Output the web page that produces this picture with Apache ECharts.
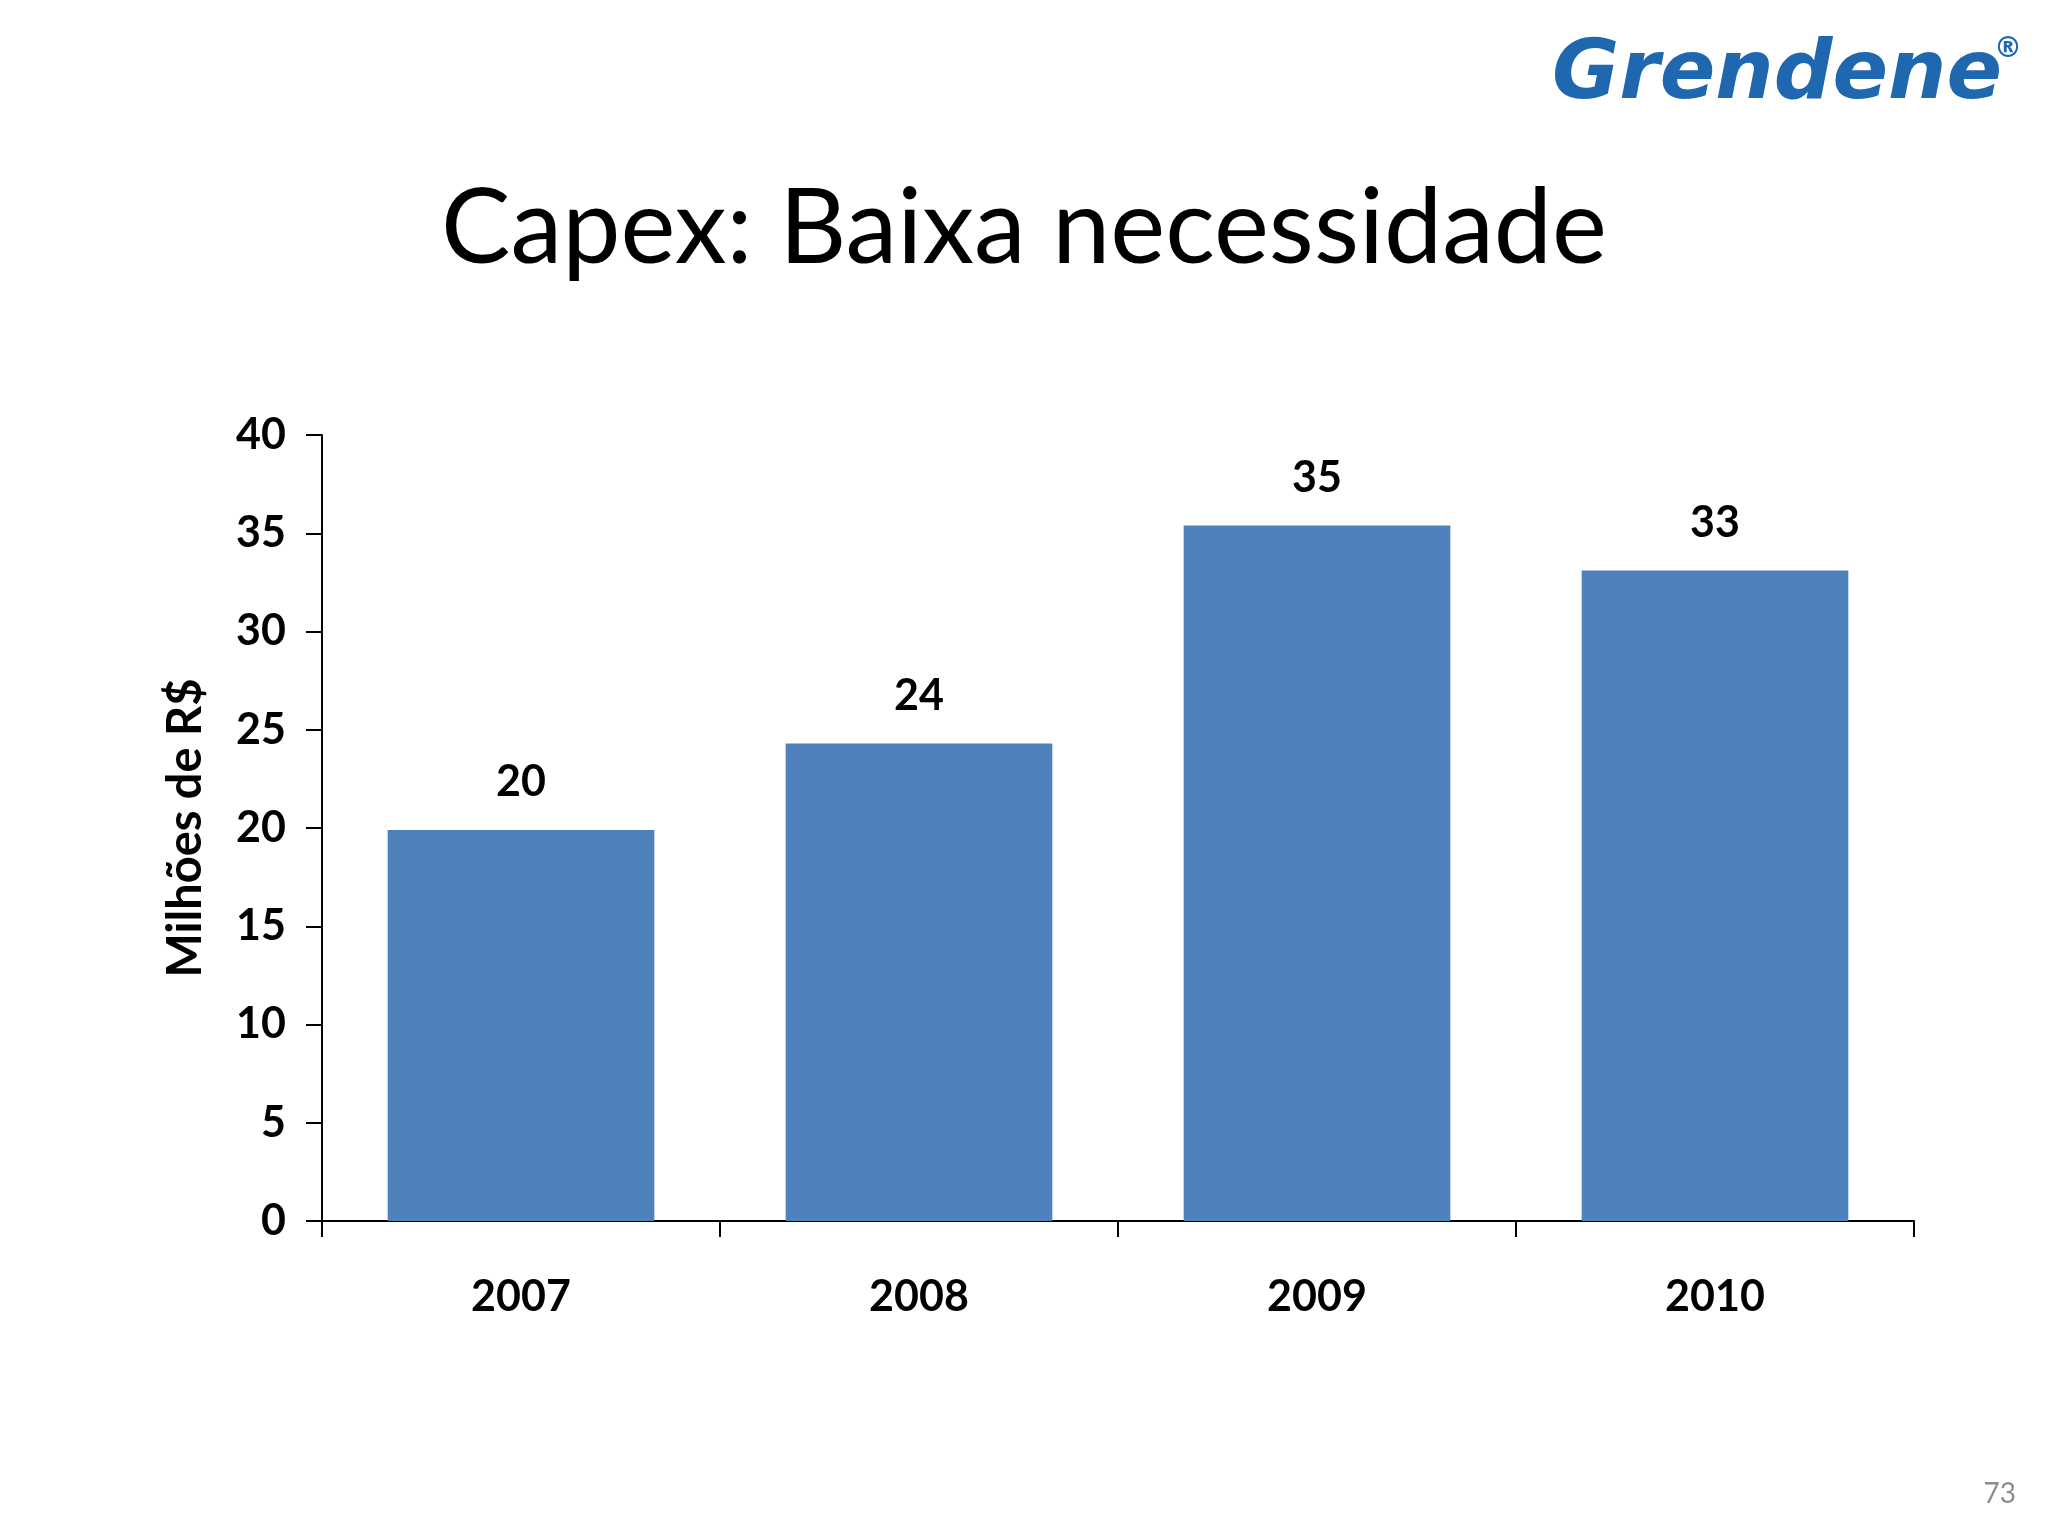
<!DOCTYPE html>
<html>
<head>
<meta charset="utf-8">
<script src="https://cdn.jsdelivr.net/npm/echarts@6/dist/echarts.min.js"></script>
<style>
html,body{margin:0;padding:0;background:#fff;}
#chart{width:2048px;height:1536px;}
</style>
</head>
<body>
<div id="chart"></div>
<script>
const titleText = 'Capex: Baixa necessidade';
const categories = ['2007', '2008', '2009', '2010'];
const capexValues = [19.9, 24.3, 35.4, 33.1];
const yAxisName = 'Milhões de R$';
const yMin = 0, yMax = 40, yInterval = 5;
const logoText = 'Grendene';
const pageNumber = '73';

const chart = echarts.init(document.getElementById('chart'));
const FONT = 'Lato, "Open Sans", sans-serif';
chart.setOption({
  backgroundColor: '#ffffff',
  animation: false,
  title: {
    text: titleText,
    left: 'center',
    top: 172,
    textStyle: { fontFamily: FONT, fontWeight: 'normal', fontSize: 104, color: '#000' }
  },
  graphic: [
    {
      type: 'text', left: 1552, top: 36,
      style: { text: logoText, fontFamily: '"DejaVu Sans", sans-serif', fontStyle: 'italic', fontWeight: 'bold', fontSize: 82, fill: '#1f68b0' }
    },
    {
      type: 'text', left: 1994, top: 36,
      style: { text: '®', fontFamily: '"DejaVu Sans", sans-serif', fontWeight: 'bold', fontSize: 28, fill: '#1f68b0' }
    },
    {
      type: 'text', right: 32, top: 1480,
      style: { text: pageNumber, fontFamily: FONT, fontSize: 28, fill: '#8c8c8c' }
    }
  ],
  grid: { left: 322, right: 134, top: 435, bottom: 315, containLabel: false },
  xAxis: {
    type: 'category',
    data: categories,
    axisLine: { show: true, lineStyle: { color: '#000', width: 2 } },
    axisTick: { show: true, length: 16, alignWithLabel: false, lineStyle: { color: '#000', width: 2 } },
    axisLabel: { margin: 55, fontFamily: FONT, fontWeight: 'bold', fontSize: 43, color: '#000' }
  },
  yAxis: {
    type: 'value',
    min: yMin, max: yMax, interval: yInterval,
    name: yAxisName,
    nameLocation: 'middle',
    nameGap: 113,
    nameRotate: 90,
    nameTextStyle: { fontFamily: FONT, fontWeight: 'bold', fontSize: 47, color: '#000' },
    axisLine: { show: true, lineStyle: { color: '#000', width: 2 } },
    axisTick: { show: true, length: 16, lineStyle: { color: '#000', width: 2 } },
    splitLine: { show: false },
    axisLabel: { margin: 36, fontFamily: FONT, fontWeight: 'bold', fontSize: 43, color: '#000' }
  },
  series: [{
    type: 'bar',
    data: capexValues,
    barCategoryGap: '33%',
    itemStyle: { color: '#4f81bd' },
    label: {
      show: true, position: 'top', distance: 26,
      formatter: p => Math.round(p.value),
      fontFamily: FONT, fontWeight: 'bold', fontSize: 43, color: '#000'
    }
  }]
});
</script>
</body>
</html>
